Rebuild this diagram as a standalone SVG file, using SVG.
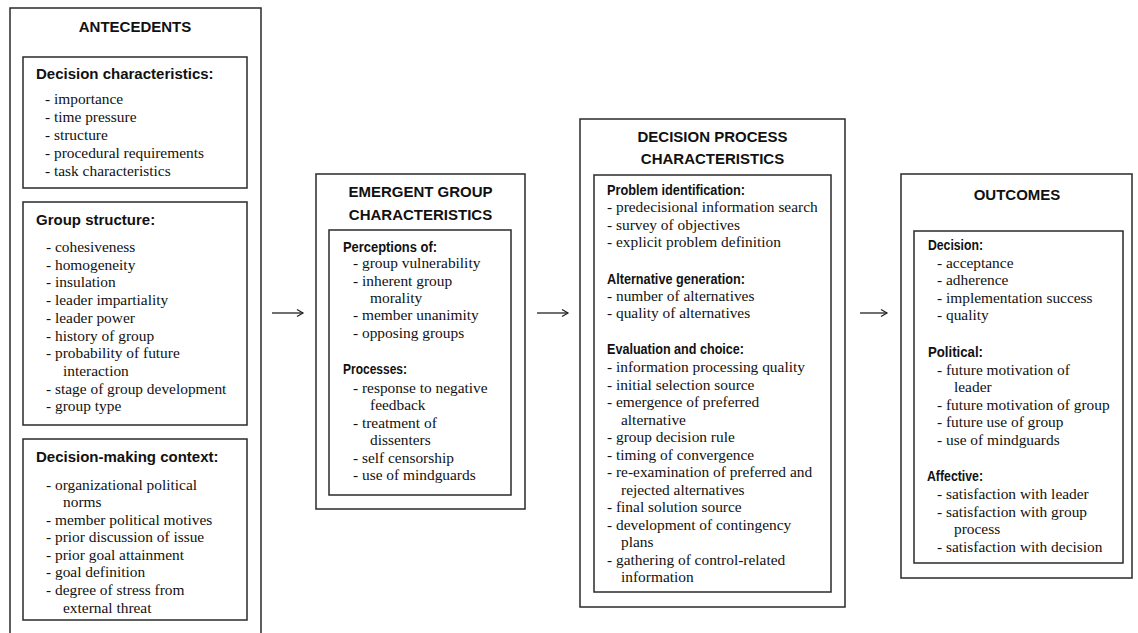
<svg xmlns="http://www.w3.org/2000/svg" width="1138" height="633" viewBox="0 0 1138 633">
<style>
.box{fill:none;stroke:#2a2a2a;stroke-width:1.5}
.ttl{font-family:"Liberation Sans",Arial,sans-serif;font-weight:bold;font-size:15px;fill:#111;text-anchor:middle}
.hd{font-family:"Liberation Sans",Arial,sans-serif;font-weight:bold;font-size:15px;fill:#111}
.hc{font-family:"Liberation Sans",Arial,sans-serif;font-weight:bold;font-size:14px;fill:#111}
.it{font-family:"Liberation Serif","Times New Roman",serif;font-size:15.4px;fill:#111}
.arr{stroke:#222;stroke-width:1.3;fill:none}
</style>
<defs>
<marker id="ah" markerWidth="9" markerHeight="9" refX="7" refY="4" orient="auto" markerUnits="userSpaceOnUse">
<path d="M1,0.5 L7,4 L1,7.5" fill="none" stroke="#222" stroke-width="1.2"/>
</marker>
</defs>
<rect width="1138" height="633" fill="#fff"/>

<g id="antecedents">
<path class="box" d="M10,640 V8 H261 V640"/>
<text class="ttl" x="135" y="32">ANTECEDENTS</text>
<g id="decision-characteristics">
<rect class="box" x="23" y="57" width="224" height="131"/>
<text class="hd" x="36" y="79">Decision characteristics:</text>
<text class="it" x="45" y="104">- importance</text>
<text class="it" x="45" y="122">- time pressure</text>
<text class="it" x="45" y="140">- structure</text>
<text class="it" x="45" y="158">- procedural requirements</text>
<text class="it" x="45" y="176">- task characteristics</text>
</g>
<g id="group-structure">
<rect class="box" x="23" y="202" width="224" height="223"/>
<text class="hd" x="36" y="225">Group structure:</text>
<text class="it" x="46" y="252">- cohesiveness</text>
<text class="it" x="46" y="269.7">- homogeneity</text>
<text class="it" x="46" y="287.4">- insulation</text>
<text class="it" x="46" y="305.1">- leader impartiality</text>
<text class="it" x="46" y="322.8">- leader power</text>
<text class="it" x="46" y="340.5">- history of group</text>
<text class="it" x="46" y="358.2">- probability of future</text>
<text class="it" x="63" y="375.9">interaction</text>
<text class="it" x="46" y="393.6">- stage of group development</text>
<text class="it" x="46" y="411.3">- group type</text>
</g>
<g id="decision-making-context">
<rect class="box" x="23" y="439" width="224" height="181"/>
<text class="hd" x="36" y="462">Decision-making context:</text>
<text class="it" x="46" y="489.5">- organizational political</text>
<text class="it" x="63" y="507">norms</text>
<text class="it" x="46" y="524.5">- member political motives</text>
<text class="it" x="46" y="542">- prior discussion of issue</text>
<text class="it" x="46" y="559.5">- prior goal attainment</text>
<text class="it" x="46" y="577">- goal definition</text>
<text class="it" x="46" y="595">- degree of stress from</text>
<text class="it" x="63" y="612.5">external threat</text>
</g>
</g>

<g id="emergent">
<rect class="box" x="316" y="174" width="209" height="335"/>
<text class="ttl" x="420.5" y="197">EMERGENT GROUP</text>
<text class="ttl" x="420.5" y="220">CHARACTERISTICS</text>
<rect class="box" x="329" y="230" width="182" height="265"/>
<text class="hc" x="343" y="252" textLength="94" lengthAdjust="spacingAndGlyphs">Perceptions of:</text>
<text class="it" x="353" y="268">- group vulnerability</text>
<text class="it" x="353" y="285.5">- inherent group</text>
<text class="it" x="370" y="303">morality</text>
<text class="it" x="353" y="320">- member unanimity</text>
<text class="it" x="353" y="337.5">- opposing groups</text>
<text class="hc" x="343" y="374" textLength="64" lengthAdjust="spacingAndGlyphs">Processes:</text>
<text class="it" x="353" y="392.5">- response to negative</text>
<text class="it" x="370" y="410">feedback</text>
<text class="it" x="353" y="427.5">- treatment of</text>
<text class="it" x="370" y="445">dissenters</text>
<text class="it" x="353" y="462.5">- self censorship</text>
<text class="it" x="353" y="480">- use of mindguards</text>
</g>

<g id="decision-process">
<rect class="box" x="580" y="119" width="265" height="488"/>
<text class="ttl" x="712.5" y="142">DECISION PROCESS</text>
<text class="ttl" x="712.5" y="164">CHARACTERISTICS</text>
<rect class="box" x="594" y="175" width="237" height="417"/>
<text class="hc" x="607" y="195" textLength="138" lengthAdjust="spacingAndGlyphs">Problem identification:</text>
<text class="it" x="607" y="212">- predecisional information search</text>
<text class="it" x="607" y="229.5">- survey of objectives</text>
<text class="it" x="607" y="247">- explicit problem definition</text>
<text class="hc" x="607" y="284" textLength="138" lengthAdjust="spacingAndGlyphs">Alternative generation:</text>
<text class="it" x="607" y="301">- number of alternatives</text>
<text class="it" x="607" y="318">- quality of alternatives</text>
<text class="hc" x="607" y="354" textLength="137" lengthAdjust="spacingAndGlyphs">Evaluation and choice:</text>
<text class="it" x="607" y="372">- information processing quality</text>
<text class="it" x="607" y="389.5">- initial selection source</text>
<text class="it" x="607" y="407">- emergence of preferred</text>
<text class="it" x="621" y="424.5">alternative</text>
<text class="it" x="607" y="442">- group decision rule</text>
<text class="it" x="607" y="459.5">- timing of convergence</text>
<text class="it" x="607" y="477">- re-examination of preferred and</text>
<text class="it" x="621" y="494.5">rejected alternatives</text>
<text class="it" x="607" y="512">- final solution source</text>
<text class="it" x="607" y="529.5">- development of contingency</text>
<text class="it" x="621" y="547">plans</text>
<text class="it" x="607" y="564.5">- gathering of control-related</text>
<text class="it" x="621" y="582">information</text>
</g>

<g id="outcomes">
<rect class="box" x="901" y="174" width="231" height="404"/>
<text class="ttl" x="1017" y="200">OUTCOMES</text>
<rect class="box" x="914" y="231" width="209" height="332"/>
<text class="hc" x="928" y="250" textLength="55" lengthAdjust="spacingAndGlyphs">Decision:</text>
<text class="it" x="937" y="267.5">- acceptance</text>
<text class="it" x="937" y="285">- adherence</text>
<text class="it" x="937" y="302.5">- implementation success</text>
<text class="it" x="937" y="320">- quality</text>
<text class="hc" x="928" y="357" textLength="55" lengthAdjust="spacingAndGlyphs">Political:</text>
<text class="it" x="937" y="374.5">- future motivation of</text>
<text class="it" x="954" y="392">leader</text>
<text class="it" x="937" y="409.5">- future motivation of group</text>
<text class="it" x="937" y="427">- future use of group</text>
<text class="it" x="937" y="444.5">- use of mindguards</text>
<text class="hc" x="927" y="481" textLength="56" lengthAdjust="spacingAndGlyphs">Affective:</text>
<text class="it" x="937" y="499">- satisfaction with leader</text>
<text class="it" x="937" y="516.5">- satisfaction with group</text>
<text class="it" x="954" y="534">process</text>
<text class="it" x="937" y="551.5">- satisfaction with decision</text>
</g>

<g id="connectors">
<line class="arr" x1="272" y1="313" x2="303" y2="313" marker-end="url(#ah)"/>
<line class="arr" x1="537" y1="313" x2="568" y2="313" marker-end="url(#ah)"/>
<line class="arr" x1="860" y1="313" x2="887" y2="313" marker-end="url(#ah)"/>
</g>
</svg>
